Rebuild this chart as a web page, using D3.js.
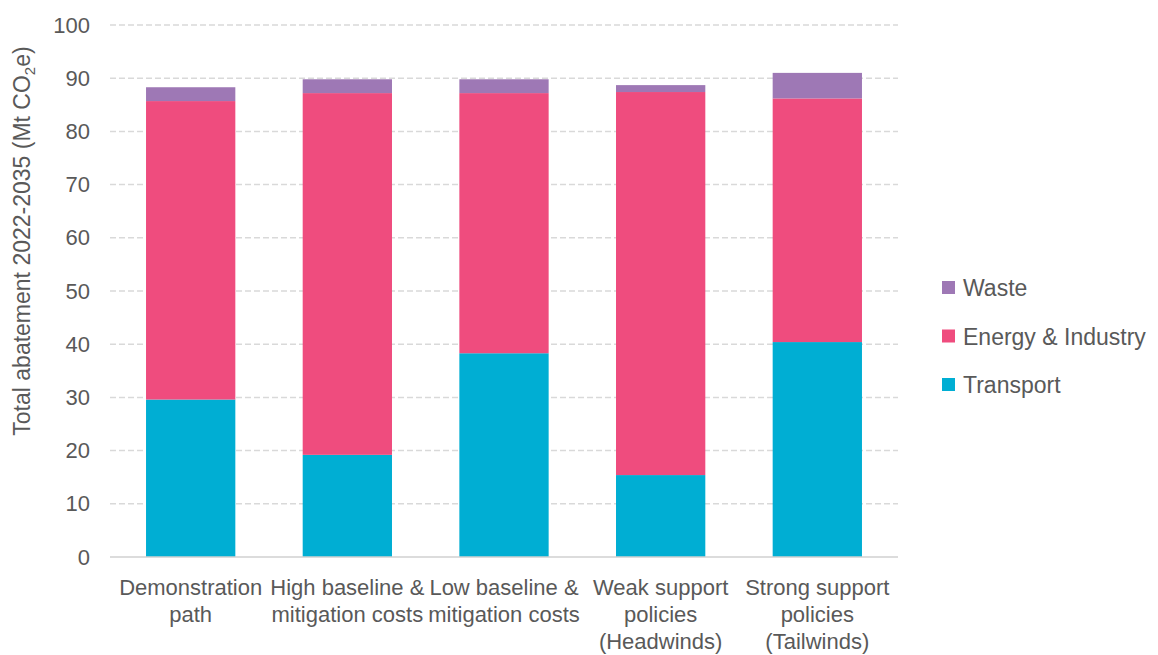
<!DOCTYPE html>
<html>
<head>
<meta charset="utf-8">
<script src="https://cdn.jsdelivr.net/npm/d3@7"></script>
<style>
  html, body { margin: 0; padding: 0; background: #ffffff; }
  svg { display: block; }
  text { font-family: "Liberation Sans", Arial, sans-serif; fill: #595959; }
</style>
</head>
<body>
<svg id="chart" width="1158" height="655"></svg>
<script>
// Scenario categories (each label split into display lines)
const categories = [
  ["Demonstration", "path"],
  ["High baseline &", "mitigation costs"],
  ["Low baseline &", "mitigation costs"],
  ["Weak support", "policies", "(Headwinds)"],
  ["Strong support", "policies", "(Tailwinds)"]
];

// Abatement by sector, Mt CO2e (stacked bottom to top)
const transport = [29.6, 19.2, 38.3, 15.4, 40.4];
const energyIndustry = [56.1, 68.0, 48.9, 72.0, 45.8];
const waste = [2.6, 2.6, 2.6, 1.3, 4.8];

const seriesNames = ["Transport", "Energy & Industry", "Waste"];
const seriesColors = ["#00aed3", "#ef4c7e", "#9e78b5"];
const yTicks = [0, 10, 20, 30, 40, 50, 60, 70, 80, 90, 100];

const svg = d3.select("#chart");
const margin = { left: 110, right: 260, top: 25, bottom: 98 };
const width = 1158, height = 655;

const rows = categories.map((c, i) => ({
  key: i,
  "Transport": transport[i],
  "Energy & Industry": energyIndustry[i],
  "Waste": waste[i]
}));

const x = d3.scaleBand()
  .domain(rows.map(d => d.key))
  .range([margin.left, width - margin.right])
  .paddingInner(0.43)
  .paddingOuter(0.23);

const y = d3.scaleLinear()
  .domain([0, 100])
  .range([height - margin.bottom, margin.top]);

const color = d3.scaleOrdinal().domain(seriesNames).range(seriesColors);

// Dashed horizontal gridlines
svg.append("g")
  .selectAll("line")
  .data(yTicks.filter(t => t > 0))
  .join("line")
  .attr("x1", margin.left)
  .attr("x2", width - margin.right)
  .attr("y1", d => y(d))
  .attr("y2", d => y(d))
  .attr("stroke", "#d9d9d9")
  .attr("stroke-width", 1.5)
  .attr("stroke-dasharray", "6,3");

// Stacked bars
const stack = d3.stack().keys(seriesNames);
const layers = stack(rows);

svg.append("g")
  .selectAll("g")
  .data(layers)
  .join("g")
  .attr("fill", d => color(d.key))
  .selectAll("rect")
  .data(d => d)
  .join("rect")
  .attr("x", d => x(d.data.key))
  .attr("width", x.bandwidth())
  .attr("y", d => y(d[1]))
  .attr("height", d => y(d[0]) - y(d[1]));

// Baseline axis
svg.append("line")
  .attr("x1", margin.left)
  .attr("x2", width - margin.right)
  .attr("y1", y(0))
  .attr("y2", y(0))
  .attr("stroke", "#d0d0d0")
  .attr("stroke-width", 1.5);

// Y axis tick labels
const yAxis = d3.axisLeft(y).tickValues(yTicks).tickSize(0).tickPadding(0);
const yg = svg.append("g")
  .attr("transform", `translate(${margin.left - 20},0)`)
  .call(yAxis);
yg.select(".domain").remove();
yg.selectAll("text")
  .style("font-family", "'Liberation Sans', Arial, sans-serif")
  .style("font-size", "22px")
  .attr("fill", "#595959");

// Y axis title with subscript
const yTitle = svg.append("text")
  .attr("transform", `translate(30,241) rotate(-90)`)
  .attr("text-anchor", "middle")
  .style("font-size", "23px");
yTitle.append("tspan").text("Total abatement 2022-2035 (Mt CO");
yTitle.append("tspan").text("2").attr("dy", 5).style("font-size", "15px");
yTitle.append("tspan").text("e)").attr("dy", -5);

// X category labels
const xl = svg.append("g")
  .selectAll("text")
  .data(categories.map((c, i) => ({ lines: c, key: i })))
  .join("text")
  .attr("text-anchor", "middle")
  .attr("x", d => x(d.key) + x.bandwidth() / 2)
  .attr("y", 595)
  .style("font-size", "22px");
xl.selectAll("tspan")
  .data(d => d.lines.map(l => ({ l, cx: x(d.key) + x.bandwidth() / 2 })))
  .join("tspan")
  .attr("x", d => d.cx)
  .attr("dy", (d, i) => i === 0 ? 0 : 27)
  .text(d => d.l);

// Legend (top to bottom: Waste, Energy & Industry, Transport)
const legendItems = seriesNames.slice().reverse();
const legend = svg.append("g")
  .selectAll("g")
  .data(legendItems)
  .join("g")
  .attr("transform", (d, i) => `translate(942,${288 + i * 48.5})`);
legend.append("rect")
  .attr("x", 0)
  .attr("y", -7)
  .attr("width", 13)
  .attr("height", 13)
  .attr("fill", d => color(d));
legend.append("text")
  .attr("x", 21)
  .attr("y", 0)
  .attr("dy", "0.36em")
  .style("font-size", "23px")
  .text(d => d);
</script>
</body>
</html>
